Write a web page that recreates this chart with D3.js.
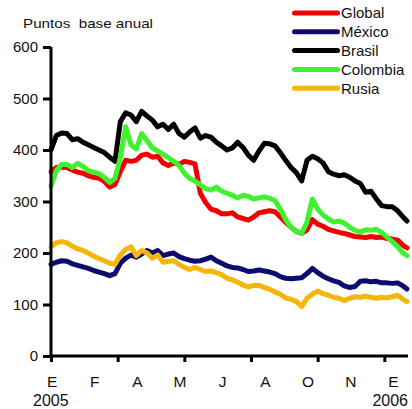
<!DOCTYPE html>
<html><head><meta charset="utf-8">
<script src="https://cdn.jsdelivr.net/npm/d3@7"></script>
<style>body{margin:0;background:#fff} svg{display:block} text{font-family:"Liberation Sans",Arial,sans-serif;fill:#111}</style>
</head><body><svg id="c" width="412" height="409"></svg>
<script>
// Business-day index of each sample (Jan 2005 .. late Jan 2006)
const days = d3.range(0, 265, 4).concat([267]);

const seriesNames = ["Global", "México", "Brasil", "Colombia", "Rusia"];
const seriesColors = ["#f20000", "#0c0c6e", "#000000", "#3ef22e", "#f5b60c"];

const globalVals = [358,366,367,366,361,357,355,350,347,345,339,328,333,358,380,378,380,390,392,386,
  388,375,370,375,372,378,376,373,316,298,285,282,276,276,278,270,267,264,270,278,
  280,282,280,270,260,250,242,238,245,265,256,252,246,243,240,238,235,232,231,230,
  232,230,231,228,227,225,215,210];
const mexicoVals = [178,182,185,184,179,176,173,170,166,163,160,156,160,180,190,196,192,198,205,200,
  205,195,198,200,193,189,186,184,185,188,192,185,180,175,172,171,168,164,165,167,
  165,163,160,154,151,150,151,152,160,170,162,155,150,146,143,136,133,135,145,146,
  144,145,142,142,141,142,136,130];
const brasilVals = [400,428,433,432,420,422,415,410,405,400,395,386,378,455,472,468,455,475,466,458,
  445,450,440,450,432,425,435,443,423,428,425,415,408,400,404,415,405,390,380,398,
  413,412,408,395,380,366,356,340,380,388,383,375,358,353,350,352,347,340,335,318,
  320,305,292,290,290,282,270,262];
const colombiaVals = [330,360,372,372,366,374,368,360,357,354,347,337,345,385,445,410,402,432,418,404,
  398,392,385,378,370,355,345,340,332,325,322,328,320,316,312,307,312,310,305,307,
  309,306,302,285,265,250,242,238,260,305,285,274,266,260,262,258,250,244,241,245,
  244,246,240,231,222,212,200,195];
const rusiaVals = [212,220,222,220,213,208,205,200,194,189,185,180,178,196,207,212,195,205,200,190,
  196,182,184,185,178,172,168,172,168,164,165,162,158,151,148,143,138,134,137,137,
  133,130,124,120,113,110,106,96,112,120,126,121,118,114,112,108,112,115,114,116,
  114,112,114,113,115,118,110,106];
const seriesValues = [globalVals, mexicoVals, brasilVals, colombiaVals, rusiaVals];

const yTicks = [0, 100, 200, 300, 400, 500, 600];
const xTickDays = [0, 50, 100, 150, 200, 250];
const monthLabels = ["E", "F", "A", "M", "J", "A", "O", "N", "E"];
const yearLabels = ["2005", "2006"];
const yTitle = "Puntos  base anual";

const svg = d3.select("#c");
const x = d3.scaleLinear().domain([0, 267]).range([51, 407]);
const y = d3.scaleLinear().domain([0, 600]).range([356, 47]);

// title
svg.append("text").attr("x", 23).attr("y", 28).attr("font-size", 13)
  .style("white-space", "pre").attr("xml:space", "preserve")
  .attr("textLength", 130).attr("lengthAdjust", "spacingAndGlyphs").text(yTitle);

// lines
const line = d3.line().x((d, i) => x(days[i])).y(d => y(d));
seriesValues.forEach((vals, k) => {
  svg.append("path").datum(vals).attr("d", line).attr("fill", "none")
    .attr("stroke", seriesColors[k]).attr("stroke-width", 5)
    .attr("stroke-linejoin", "round").attr("stroke-linecap", "round");
});

// y axis
const yAxis = svg.append("g").attr("transform", "translate(51,0)")
  .call(d3.axisLeft(y).tickValues(yTicks).tickSize(8).tickPadding(5));
yAxis.select(".domain").attr("stroke", "#000").attr("stroke-width", 3).attr("d", "M0," + y(600) + "V" + (y(0)+1.5));
yAxis.selectAll(".tick line").attr("stroke", "#000").attr("stroke-width", 3);
yAxis.selectAll(".tick text").attr("font-size", 15).attr("font-family", "Liberation Sans, Arial, sans-serif").attr("fill", "#111");

// x axis
const xAxis = svg.append("g").attr("transform", "translate(0,356)")
  .call(d3.axisBottom(x).tickValues(xTickDays).tickSize(6).tickFormat(""));
xAxis.select(".domain").attr("stroke", "#000").attr("stroke-width", 3).attr("d", "M49.5,0H408");
xAxis.selectAll(".tick line").attr("stroke", "#000").attr("stroke-width", 3);

// month labels
svg.append("g").selectAll("text").data(monthLabels).join("text")
  .attr("x", (d, i) => x(i * 32 + 0.8)).attr("y", 387).attr("text-anchor", "middle")
  .attr("font-size", 15.5).text(d => d);
svg.append("text").attr("x", x(0) - 18).attr("y", 406).attr("font-size", 16).text(yearLabels[0]);
svg.append("text").attr("x", 408).attr("y", 406).attr("text-anchor", "end").attr("font-size", 16).text(yearLabels[1]);

// legend
const lg = svg.append("g");
seriesNames.forEach((name, k) => {
  const ly = 13 + k * 18.8;
  lg.append("line").attr("x1", 294.5).attr("x2", 337.5).attr("y1", ly).attr("y2", ly)
    .attr("stroke", seriesColors[k]).attr("stroke-width", 5).attr("stroke-linecap", "round");
  lg.append("text").attr("x", 341).attr("y", ly + 5.3).attr("font-size", 15).text(name);
});
</script>
</body></html>
